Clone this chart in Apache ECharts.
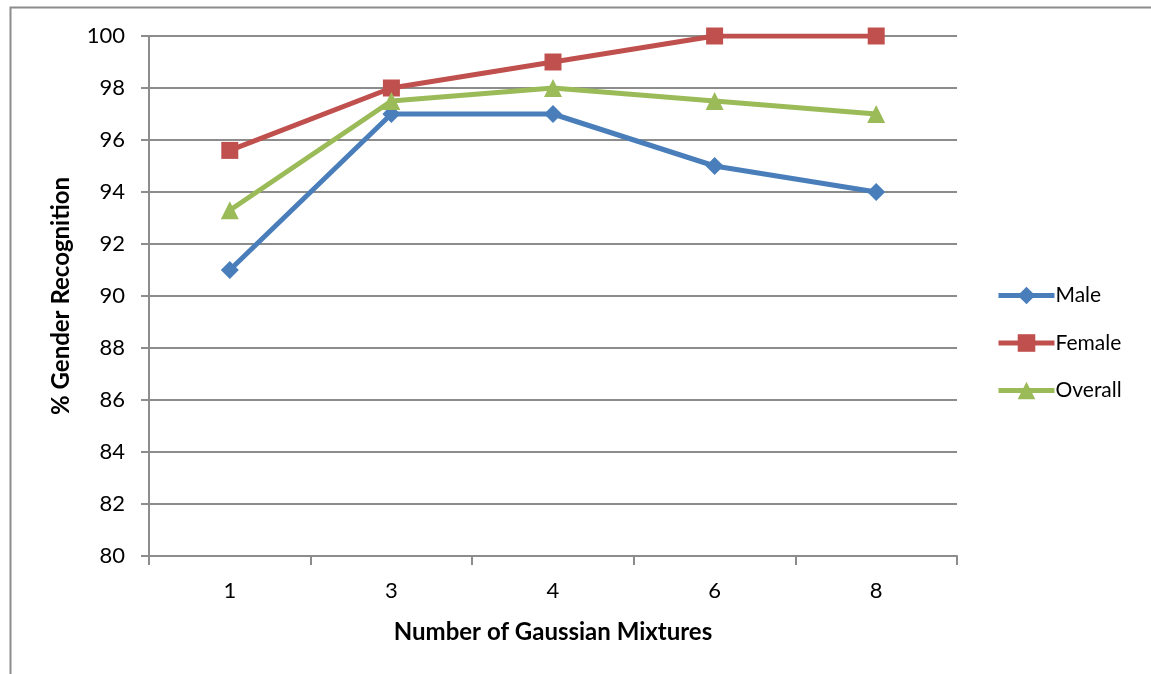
<!DOCTYPE html>
<html>
<head>
<meta charset="utf-8">
<script src="https://cdn.jsdelivr.net/npm/echarts@6/dist/echarts.min.js"></script>
<style>
  html, body { margin: 0; padding: 0; background: #fff; }
  #chart { width: 1151px; height: 674px; }
</style>
</head>
<body>
<div id="chart"></div>
<script>
// Gender recognition rate vs. number of Gaussian mixtures
const mixtures = ['1', '3', '4', '6', '8'];
const male = [91, 97, 97, 95, 94];
const female = [95.6, 98, 99, 100, 100];
const overall = [93.3, 97.5, 98, 97.5, 97];

const FONT = 'Lato, "Open Sans", sans-serif';
const GRID_COLOR = '#8c8c8c';

const chart = echarts.init(document.getElementById('chart'));

function series(name, data, color, symbol, size) {
  return {
    name: name,
    type: 'line',
    data: data,
    symbol: symbol,
    symbolSize: size,
    lineStyle: { color: color, width: 5 },
    itemStyle: { color: color },
    emphasis: { disabled: true },
    animation: false
  };
}

chart.setOption({
  animation: false,
  backgroundColor: '#fff',
  graphic: [{
    type: 'rect',
    shape: { x: 10.5, y: 7.5, width: 1200, height: 700 },
    style: { fill: 'none', stroke: '#8c8c8c', lineWidth: 2 },
    silent: true
  }],
  grid: { left: 149, top: 36, width: 808, height: 520, containLabel: false },
  legend: {
    orient: 'vertical',
    left: 996,
    top: 285,
    padding: 0,
    itemWidth: 56,
    itemHeight: 22,
    itemGap: 26.5,
    lineStyle: { width: 5 },
    textStyle: { fontFamily: FONT, fontSize: 21, lineHeight: 21, color: '#000', padding: [0, 0, 0, -4] },
    data: ['Male', 'Female', 'Overall']
  },
  xAxis: {
    type: 'category',
    data: mixtures,
    boundaryGap: true,
    name: 'Number of Gaussian Mixtures',
    nameLocation: 'middle',
    nameGap: 64,
    nameTextStyle: { fontFamily: FONT, fontSize: 24, fontWeight: 'bold', color: '#000' },
    axisLine: { lineStyle: { color: GRID_COLOR, width: 2 } },
    axisTick: { show: true, length: 9, lineStyle: { color: GRID_COLOR, width: 2 } },
    axisLabel: { fontFamily: FONT, fontSize: 22, color: '#000', margin: 24 },
    splitLine: { show: false }
  },
  yAxis: {
    type: 'value',
    min: 80,
    max: 100,
    interval: 2,
    name: '% Gender Recognition',
    nameLocation: 'middle',
    nameGap: 76,
    nameRotate: 90,
    nameTextStyle: { fontFamily: FONT, fontSize: 24, fontWeight: 'bold', color: '#000' },
    axisLine: { show: true, lineStyle: { color: GRID_COLOR, width: 2 } },
    axisTick: { show: true, length: 8, lineStyle: { color: GRID_COLOR, width: 2 } },
    axisLabel: { fontFamily: FONT, fontSize: 22, color: '#000', margin: 24 },
    splitLine: { show: true, lineStyle: { color: GRID_COLOR, width: 2 } }
  },
  series: [
    series('Male', male, '#4a7ebb', 'diamond', 18),
    series('Female', female, '#c0504d', 'rect', 17),
    series('Overall', overall, '#9bbb59', 'triangle', 18)
  ]
});
</script>
</body>
</html>
